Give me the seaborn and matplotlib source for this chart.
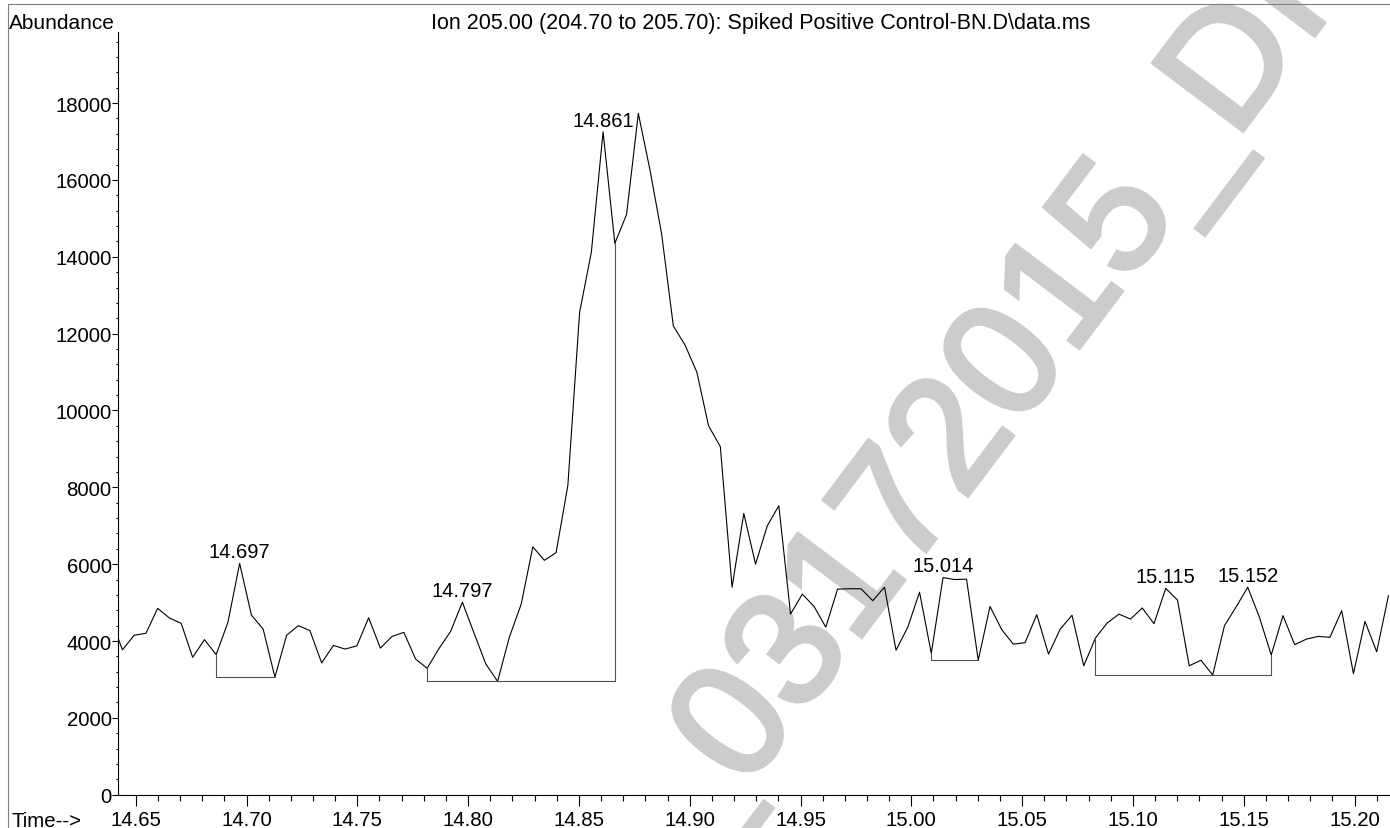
import matplotlib
matplotlib.use("Agg")
import matplotlib.pyplot as plt
import matplotlib.patheffects as pe
import pandas as pd
import seaborn as sns
from matplotlib.lines import Line2D
from matplotlib.ticker import MultipleLocator, FormatStrFormatter

# scan times (min) and abundance
times = [
    14.6387, 14.6440, 14.6493, 14.6546, 14.6599, 14.6652, 14.6705, 14.6757, 14.6810, 14.6863,
    14.6916, 14.6969, 14.7022, 14.7075, 14.7128, 14.7181, 14.7234, 14.7286, 14.7339, 14.7392,
    14.7445, 14.7498, 14.7551, 14.7604, 14.7657, 14.7710, 14.7763, 14.7815, 14.7868, 14.7921,
    14.7974, 14.8027, 14.8080, 14.8133, 14.8186, 14.8239, 14.8292, 14.8344, 14.8397, 14.8450,
    14.8503, 14.8556, 14.8609, 14.8662, 14.8715, 14.8768, 14.8821, 14.8873, 14.8926, 14.8979,
    14.9032, 14.9085, 14.9138, 14.9191, 14.9244, 14.9297, 14.9350, 14.9402, 14.9455, 14.9508,
    14.9561, 14.9614, 14.9667, 14.9720, 14.9773, 14.9826, 14.9879, 14.9931, 14.9984, 15.0037,
    15.0090, 15.0143, 15.0196, 15.0249, 15.0302, 15.0355, 15.0408, 15.0460, 15.0513, 15.0566,
    15.0619, 15.0672, 15.0725, 15.0778, 15.0831, 15.0884, 15.0937, 15.0989, 15.1042, 15.1095,
    15.1148, 15.1201, 15.1254, 15.1307, 15.1360, 15.1413, 15.1466, 15.1518, 15.1571, 15.1624,
    15.1677, 15.1730, 15.1783, 15.1836, 15.1889, 15.1942, 15.1995, 15.2047, 15.2100, 15.2153,
]
abundance = [
    4600, 3770, 4150, 4200, 4850, 4600, 4460, 3575, 4035, 3645,
    4485, 6020, 4675, 4310, 3060, 4150, 4400, 4270, 3430, 3885,
    3790, 3875, 4605, 3815, 4120, 4225, 3530, 3290, 3800, 4250,
    5010, 4200, 3400, 2950, 4100, 4950, 6450, 6100, 6300, 8050,
    12550, 14120, 17250, 14350, 15100, 17730, 16250, 14600, 12200, 11700,
    11000, 9600, 9060, 5400, 7320, 6000, 7000, 7520, 4700, 5220,
    4900, 4360, 5350, 5360, 5360, 5050, 5400, 3760, 4360, 5270,
    3680, 5650, 5600, 5610, 3500, 4900, 4295, 3920, 3955, 4685,
    3660, 4310, 4670, 3355, 4080, 4470, 4700, 4570, 4860, 4450,
    5370, 5065, 3355, 3500, 3115, 4400, 4890, 5400, 4615, 3635,
    4660, 3905, 4050, 4120, 4095, 4790, 3150, 4510, 3720, 5180,
]

# integration baselines under the labelled peaks
base_start = [14.6863, 14.7815, 15.0090, 15.0831]
base_end = [14.7128, 14.8662, 15.0302, 15.1624]
base_level = [3060, 2950, 3500, 3115]

peak_times = [14.6969, 14.7974, 14.8609, 15.0143, 15.1148, 15.1518]
peak_labels = ["14.697", "14.797", "14.861", "15.014", "15.115", "15.152"]

title = "Ion 205.00 (204.70 to 205.70): Spiked Positive Control-BN.D\\data.ms"
watermark = "_03172015_DI"

sns.set_theme(style="white")
plt.rcParams["font.family"] = ["Liberation Sans", "DejaVu Sans"]
plt.rcParams["text.color"] = "black"
plt.rcParams["xtick.color"] = "black"
plt.rcParams["ytick.color"] = "black"

W, H = 1390, 829
fig = plt.figure(figsize=(W / 100, H / 100), dpi=100)
ax = fig.add_axes([118 / W, 33.3 / H, 1272 / W, 762.7 / H])
ax.patch.set_alpha(0)

df = pd.DataFrame({"time": times, "abundance": abundance})
sns.lineplot(data=df, x="time", y="abundance", ax=ax, color="black",
             lw=0.8, sort=False, estimator=None)

def value_at(t):
    i = min(range(len(times)), key=lambda k: abs(times[k] - t))
    return abundance[i]

for s, e, lvl in zip(base_start, base_end, base_level):
    ax.plot([s, e], [lvl, lvl], color="#505050", lw=0.8)
    ax.plot([s, s], [lvl, value_at(s)], color="#505050", lw=0.8)
    ax.plot([e, e], [lvl, value_at(e)], color="#505050", lw=0.8)

for t, lab in zip(peak_times, peak_labels):
    ax.annotate(lab, xy=(t, value_at(t)), xytext=(0, 4.5), textcoords="offset points",
                ha="center", va="baseline", fontsize=14.5)

ax.set_xlim(14.642, 15.216)
ax.set_ylim(0, 19850)
ax.xaxis.set_major_locator(MultipleLocator(0.05))
ax.xaxis.set_minor_locator(MultipleLocator(0.01))
ax.yaxis.set_major_locator(MultipleLocator(2000))
ax.yaxis.set_minor_locator(MultipleLocator(400))
ax.xaxis.set_major_formatter(FormatStrFormatter("%.2f"))
ax.yaxis.set_major_formatter(FormatStrFormatter("%d"))
ax.tick_params(which="both", bottom=True, left=True, direction="out", width=0.8, colors="black")
ax.tick_params(axis="x", which="major", length=7.7, pad=3.6, labelsize=14.7)
ax.tick_params(axis="x", which="minor", length=4.1)
ax.tick_params(axis="y", which="major", length=4.1, pad=0.5, labelsize=14.7)
ax.tick_params(axis="y", which="minor", length=1.7)
ax.set_xlabel("")
ax.set_ylabel("")
sns.despine(ax=ax)
for side in ["left", "bottom"]:
    ax.spines[side].set_color("black")
    ax.spines[side].set_linewidth(0.8)

fig.text(9.3 / W, 1 - 29 / H, "Abundance", ha="left", va="baseline", fontsize=15)
fig.text(0.5475, 1 - 29 / H, title, ha="center", va="baseline", fontsize=15.5)
fig.text(12 / W, 1.7 / H, "Time-->", ha="left", va="baseline", fontsize=14.7)

# grey diagonal watermark behind the trace
fig.text(691 / W, 1 - 863.5 / H, watermark, rotation=53, rotation_mode="anchor",
         ha="left", va="baseline", fontsize=117, color="#cccccc", zorder=-5,
         path_effects=[pe.Stroke(linewidth=3.5, foreground="#cccccc", joinstyle="miter"),
                       pe.Normal()])

fig.add_artist(Line2D([8 / W, 1], [1 - 5 / H, 1 - 5 / H], transform=fig.transFigure,
                      color="#808080", lw=0.8))
fig.add_artist(Line2D([8 / W, 8 / W], [0, 1 - 5 / H], transform=fig.transFigure,
                      color="#808080", lw=0.8))

fig.savefig("out.png", dpi=100)
